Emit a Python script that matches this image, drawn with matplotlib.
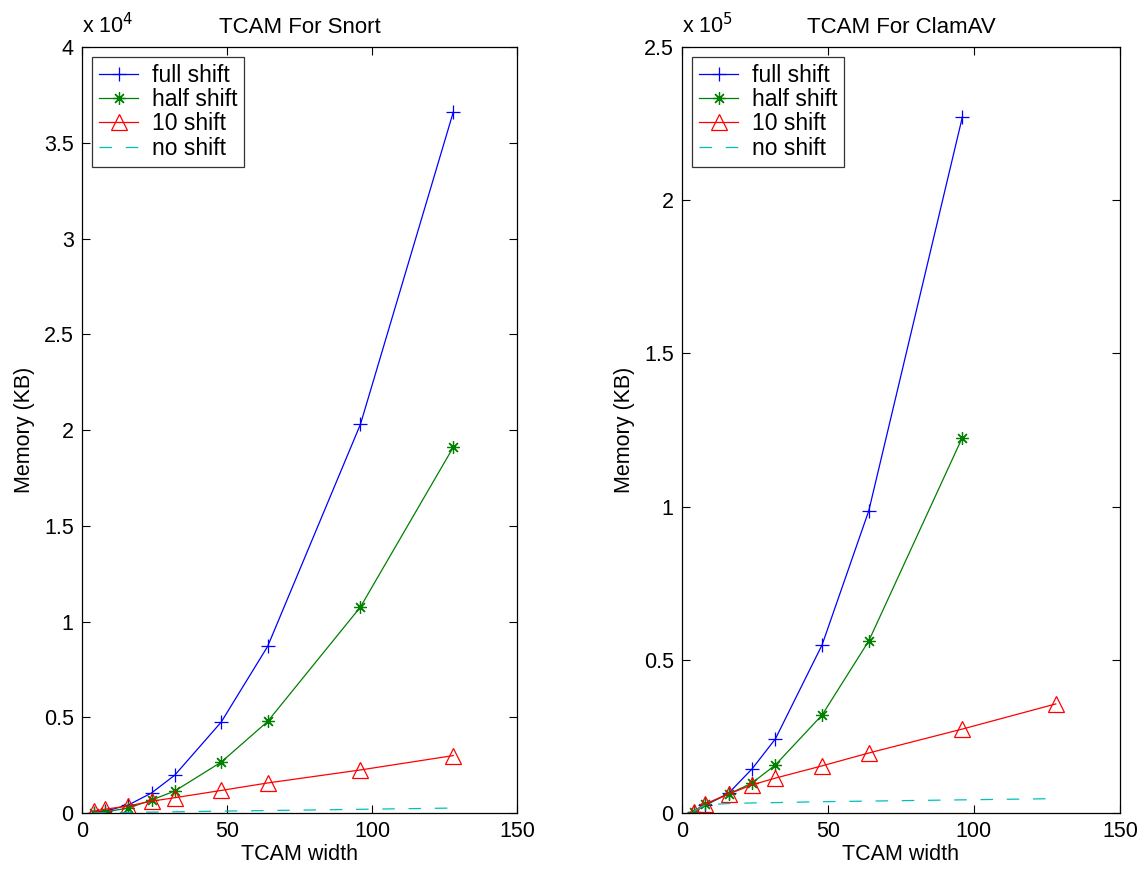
import matplotlib
matplotlib.use("Agg")
import matplotlib.pyplot as plt

plt.rcParams['font.family'] = ['Liberation Sans', 'DejaVu Sans']

widths = [4, 8, 16, 24, 32, 48, 64, 96, 128]

# Snort (KB)
snort_full = [25, 100, 420, 1050, 1980, 4750, 8700, 20300, 36600]
snort_half = [15, 60, 260, 680, 1150, 2660, 4780, 10760, 19100]
snort_ten = [100, 200, 370, 620, 800, 1180, 1570, 2250, 3000]
snort_none = [8, 16, 32, 48, 64, 100, 130, 195, 260]

# ClamAV (KB), full/half shift stop at width 96
clam_widths_short = [4, 8, 16, 24, 32, 48, 64, 96]
clam_full = [500, 2500, 6500, 14400, 24200, 54900, 98700, 227000]
clam_half = [500, 2800, 6200, 9800, 15700, 32000, 56200, 122500]
clam_ten = [500, 3000, 6200, 9200, 11400, 15400, 19600, 27400, 35600]
clam_none = [500, 2700, 3100, 3300, 3400, 3700, 3900, 4300, 4700]

BLUE = (0, 0, 1)
GREEN = (0, 0.5, 0)
RED = (1, 0, 0)
CYAN = (0, 0.75, 0.75)
FS = 15.5


def draw(ax, xs_short, full, half, ten, none, scale, exp, ymax, yticks, title):
    ax.plot(xs_short, [v / scale for v in full], color=BLUE, lw=0.9,
            marker='+', ms=10, mew=0.9, label='full shift')
    ax.plot(xs_short, [v / scale for v in half], color=GREEN, lw=0.9,
            marker=(8, 2, 0), ms=9, mew=0.9, label='half shift')
    ax.plot(widths, [v / scale for v in ten], color=RED, lw=0.9,
            marker='^', ms=11, mfc='none', mew=0.9, label='10 shift')
    ax.plot(widths, [v / scale for v in none], color=CYAN, lw=0.9,
            ls=(0, (10, 11)), label='no shift')
    ax.set_xlim(0, 150)
    ax.set_ylim(0, ymax)
    ax.set_xticks([0, 50, 100, 150])
    ax.set_yticks(yticks)
    ax.set_yticklabels([('%g' % t) for t in yticks])
    ax.tick_params(direction='in', top=True, right=True, labelsize=FS,
                   length=6, width=0.8, pad=6)
    for s in ax.spines.values():
        s.set_linewidth(0.9)
    ax.set_title(title, fontsize=16, pad=10)
    ax.set_xlabel('TCAM width', fontsize=FS, labelpad=1)
    ax.set_ylabel('Memory (KB)', fontsize=FS, labelpad=6)
    ax.text(0, 1.012, r'x 10$^{%d}$' % exp, transform=ax.transAxes,
            fontsize=FS, ha='left', va='bottom')
    leg = ax.legend(loc='upper left', fontsize=16.5, frameon=True, fancybox=False,
                    edgecolor='black', borderaxespad=0.45, handlelength=1.7,
                    labelspacing=0.05, borderpad=0.3, handletextpad=0.6)
    leg.get_frame().set_linewidth(0.9)


fig = plt.figure(figsize=(11.45, 8.69), dpi=100)
ax1 = fig.add_axes([0.0716, 0.0644, 0.380, 0.8815])
ax2 = fig.add_axes([0.5956, 0.0644, 0.3825, 0.8815])

draw(ax1, widths, snort_full, snort_half, snort_ten, snort_none, 1e4, 4, 4,
     [0, 0.5, 1, 1.5, 2, 2.5, 3, 3.5, 4], 'TCAM For Snort')
draw(ax2, clam_widths_short, clam_full, clam_half, clam_ten, clam_none, 1e5, 5, 2.5,
     [0, 0.5, 1, 1.5, 2, 2.5], 'TCAM For ClamAV')

fig.savefig('out.png', dpi=100)
